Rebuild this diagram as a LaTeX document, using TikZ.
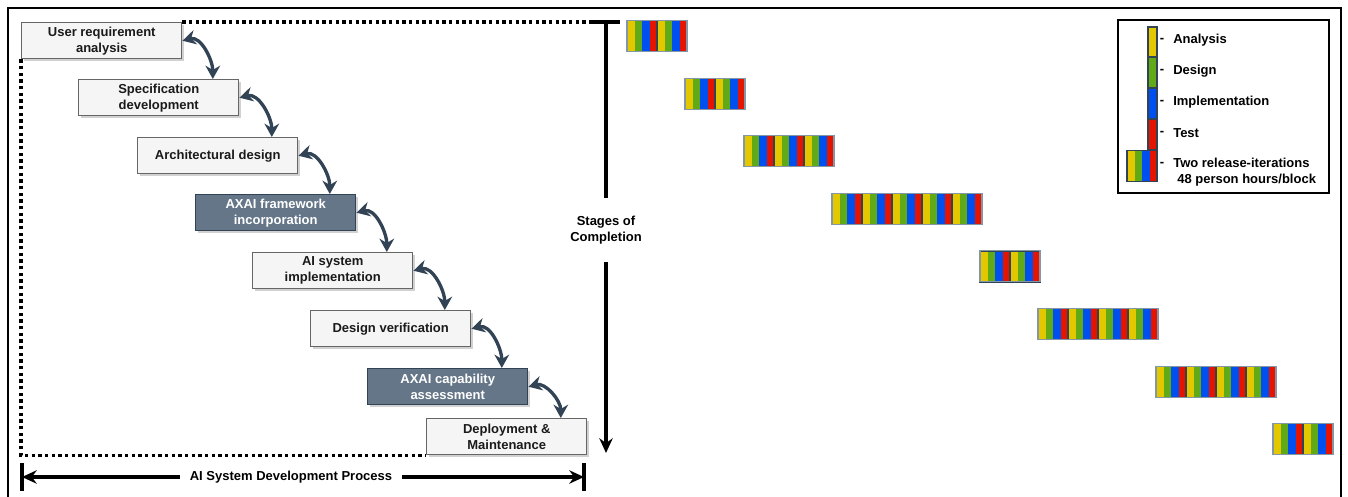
\documentclass[tikz,border=0pt]{standalone}
\usepackage{fontspec}
\setmainfont{Liberation Sans}
\usetikzlibrary{arrows.meta,shadows}

\definecolor{stagefill}{HTML}{F5F5F5}
\definecolor{stageline}{HTML}{666666}
\definecolor{stagetext}{HTML}{1A1A1A}
\definecolor{axaifill}{HTML}{647687}
\definecolor{slate}{HTML}{314354}
\definecolor{cyellow}{HTML}{E3C800}
\definecolor{cgreen}{HTML}{60A917}
\definecolor{cblue}{HTML}{0050EF}
\definecolor{cred}{HTML}{E51400}
\definecolor{groupedge}{HTML}{8497A8}

\tikzset{
  txt/.style={font=\fontsize{9.75}{12}\selectfont\bfseries, align=center},
  stage/.style={txt, draw=stageline, fill=stagefill, text=stagetext,
    line width=1.1pt, minimum width=120pt, minimum height=27pt,
    inner sep=0pt, anchor=north west,
    drop shadow={shadow xshift=1.5pt, shadow yshift=-1.5pt, opacity=0.3, fill=black!60}},
  axai/.style={stage, draw=slate, fill=axaifill, text=white},
  cyclearrow/.style={draw=slate, line width=2.5pt,
    arrows={Stealth[length=10pt,width=11pt]-Stealth[length=10pt,width=11pt]}},
  heavy/.style={line width=2.4pt},
  dotframe/.style={line width=2.5pt, dash pattern=on 2.5pt off 2.5pt},
}

% one iteration block: four 7.5px stripes, top-left corner at (#1,#2) in px
\newcommand{\iterblock}[2]{%
  \fill[cyellow] (#1,-#2) rectangle ++(7.5,-31);
  \fill[cgreen] ({#1+7.5},-#2) rectangle ++(7.5,-31);
  \fill[cblue] ({#1+15},-#2) rectangle ++(7.5,-31);
  \fill[cred] ({#1+22.5},-#2) rectangle ++(7.5,-31);
  \draw[slate, line width=0.9pt] (#1,-#2) rectangle ++(30,-31);}

\begin{document}
\begin{tikzpicture}[x=0.75pt,y=0.75pt]
\useasboundingbox (0,0) rectangle (1348,-496);

% outer frame
\draw[line width=1.5pt] (8,-8) rectangle (1341,-520);

% process stages
\node[stage] (b1) at (21,-22) {User requirement\\analysis};
\node[stage] (b2) at (78,-79) {Specification\\development};
\node[stage] (b3) at (137,-137) {Architectural design};
\node[axai]  (b4) at (195,-194) {AXAI framework\\incorporation};
\node[stage] (b5) at (252,-252) {AI system\\implementation};
\node[stage] (b6) at (310,-310) {Design verification};
\node[axai]  (b7) at (367,-368) {AXAI capability\\assessment};
\node[stage] (b8) at (426,-418) {Deployment \&\\Maintenance};

\foreach \a/\b in {b1/b2,b2/b3,b3/b4,b4/b5,b5/b6,b6/b7,b7/b8}
  \draw[cyclearrow] (\a.east) to[out=15,in=90] ([xshift=-20pt]\b.north east);

% stages-of-completion axis
\coordinate (vtop) at (606,-22);
\coordinate (vtip) at (606,-453);
\node[txt, minimum height=48pt, inner sep=0pt] (stages) at (606,-230) {Stages of\\Completion};
\draw[heavy] (vtop) -- (stages.north);
\draw[heavy, -{Stealth[length=11pt,width=10pt]}] (stages.south) -- (vtip);
\draw[heavy] ([xshift=-10.5pt]vtop) -- ([xshift=10.5pt]vtop);

% dotted outline of the development process
\draw[dotframe] (b1.north east) -- ([xshift=-9pt]vtop);
\draw[dotframe] (b1.south west) -- (b1.south west |- b8.south west) -- (b8.south west);

% development process span
\coordinate (lend) at (22,-477);
\coordinate (rend) at (584,-477);
\draw[heavy] ([yshift=10.5pt]lend) -- ([yshift=-10.5pt]lend);
\draw[heavy] ([yshift=10.5pt]rend) -- ([yshift=-10.5pt]rend);
\node[txt, inner xsep=7pt] (proc) at (291,-477) {AI System Development Process};
\draw[heavy, {Stealth[length=11pt,width=10pt]}-] (lend) -- (proc.west);
\draw[heavy, -{Stealth[length=11pt,width=10pt]}] (proc.east) -- (rend);

% iteration blocks per stage
\foreach \gx/\gy/\gn in {627/20.5/2, 685/78.1/2, 744/135.7/3, 832/193.3/5,
                         980/250.9/2, 1038/308.5/4, 1156/366.1/4, 1273/423.7/2} {
  \foreach \k in {1,...,\gn} {
    \pgfmathsetmacro\bx{\gx+30*(\k-1)}
    \iterblock{\bx}{\gy}
  }
  \draw[groupedge, line width=0.8pt] (\gx,-\gy) rectangle ++({30*\gn},-31);
}

% legend
\draw[line width=1.5pt] (1118,-20) rectangle (1329,-193);
\fill[cyellow, draw=slate, line width=0.9pt] (1148,-27) rectangle ++(9,-30);
\fill[cgreen, draw=slate, line width=0.9pt] (1148,-57.8) rectangle ++(9,-30);
\fill[cblue, draw=slate, line width=0.9pt] (1148,-88.6) rectangle ++(9,-30);
\fill[cred, draw=slate, line width=0.9pt] (1148,-119.4) rectangle ++(9,-30);
\iterblock{1127}{150.2}

\foreach \ly/\lt in {40/Analysis, 71/Design, 102/Implementation, 133/Test} {
  \node[txt] (dash\lt) at (1162,-\ly) {-};
  \node[txt, anchor=west, inner sep=0pt] (leg\lt) at (1173,-\ly) {\lt};
}
\node[txt] (dashiter) at (1162,-164) {-};
\node[txt, align=left, anchor=west, inner sep=0pt] (legiter) at (1173,-172)
  {Two release-iterations\\\hspace{3pt}48 person hours/block};
\end{tikzpicture}
\end{document}
